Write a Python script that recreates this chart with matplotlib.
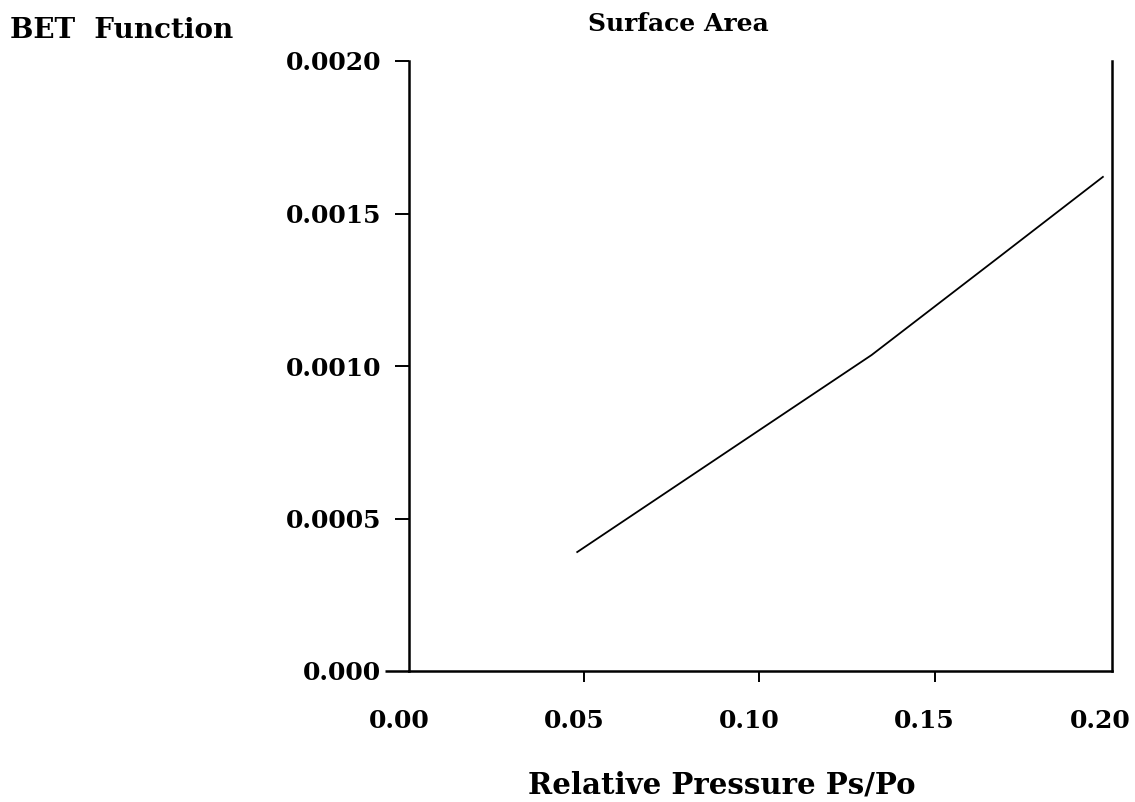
import matplotlib
matplotlib.use("Agg")
import matplotlib.pyplot as plt
from matplotlib.transforms import ScaledTranslation

# Data
rel_pressure = [0.048, 0.100, 0.132, 0.168, 0.198]
bet_function = [0.00039, 0.00079, 0.001036, 0.001354, 0.00162]

x_ticks = [0.00, 0.05, 0.10, 0.15, 0.20]
x_labels = ["0.00", "0.05", "0.10", "0.15", "0.20"]
y_ticks = [0.0, 0.0005, 0.0010, 0.0015, 0.0020]
y_labels = ["0.000", "0.0005", "0.0010", "0.0015", "0.0020"]

plt.rcParams['font.family'] = ['DejaVu Serif']
plt.rcParams['font.weight'] = 'bold'

fig = plt.figure(figsize=(11.35, 8.02), dpi=100)
ax = fig.add_axes([409/1135, (802-671)/802, (1112-409)/1135, (671-61)/802])

ax.plot(rel_pressure, bet_function, color='black', lw=1.3)

ax.set_xlim(0, 0.2006)
ax.set_ylim(0, 0.002)
ax.set_xticks(x_ticks)
ax.set_xticklabels(x_labels, fontsize=18, fontweight='bold')
ax.set_yticks(y_ticks)
ax.set_yticklabels(y_labels, fontsize=18, fontweight='bold')

ax.spines['top'].set_visible(False)
for s in ['left', 'bottom', 'right']:
    ax.spines[s].set_linewidth(1.8)
ax.tick_params(axis='y', direction='out', length=10, width=1.4, pad=10)
ax.tick_params(axis='x', direction='out', length=8, width=1.4, pad=19)
xt = ax.xaxis.get_major_ticks()
xt[0].tick1line.set_visible(False)
xt[-1].tick1line.set_visible(False)
yt = ax.yaxis.get_major_ticks()
yt[0].tick1line.set_markersize(17)
yt[0].tick1line.set_markeredgewidth(1.8)

shift = ScaledTranslation(-10/100, 0, fig.dpi_scale_trans)
for lab in ax.get_xticklabels():
    lab.set_transform(lab.get_transform() + shift)

fig.text(678/1135, 1 - 24/802, "Surface Area", ha='center', va='center',
         fontsize=18, fontweight='bold')
fig.text(10/1135, 1 - 30/802, "BET  Function", ha='left', va='center',
         fontsize=20, fontweight='bold')
fig.text(722/1135, 1 - 785/802, "Relative Pressure Ps/Po", ha='center', va='center',
         fontsize=21, fontweight='bold')

fig.savefig("out.png", dpi=100)
